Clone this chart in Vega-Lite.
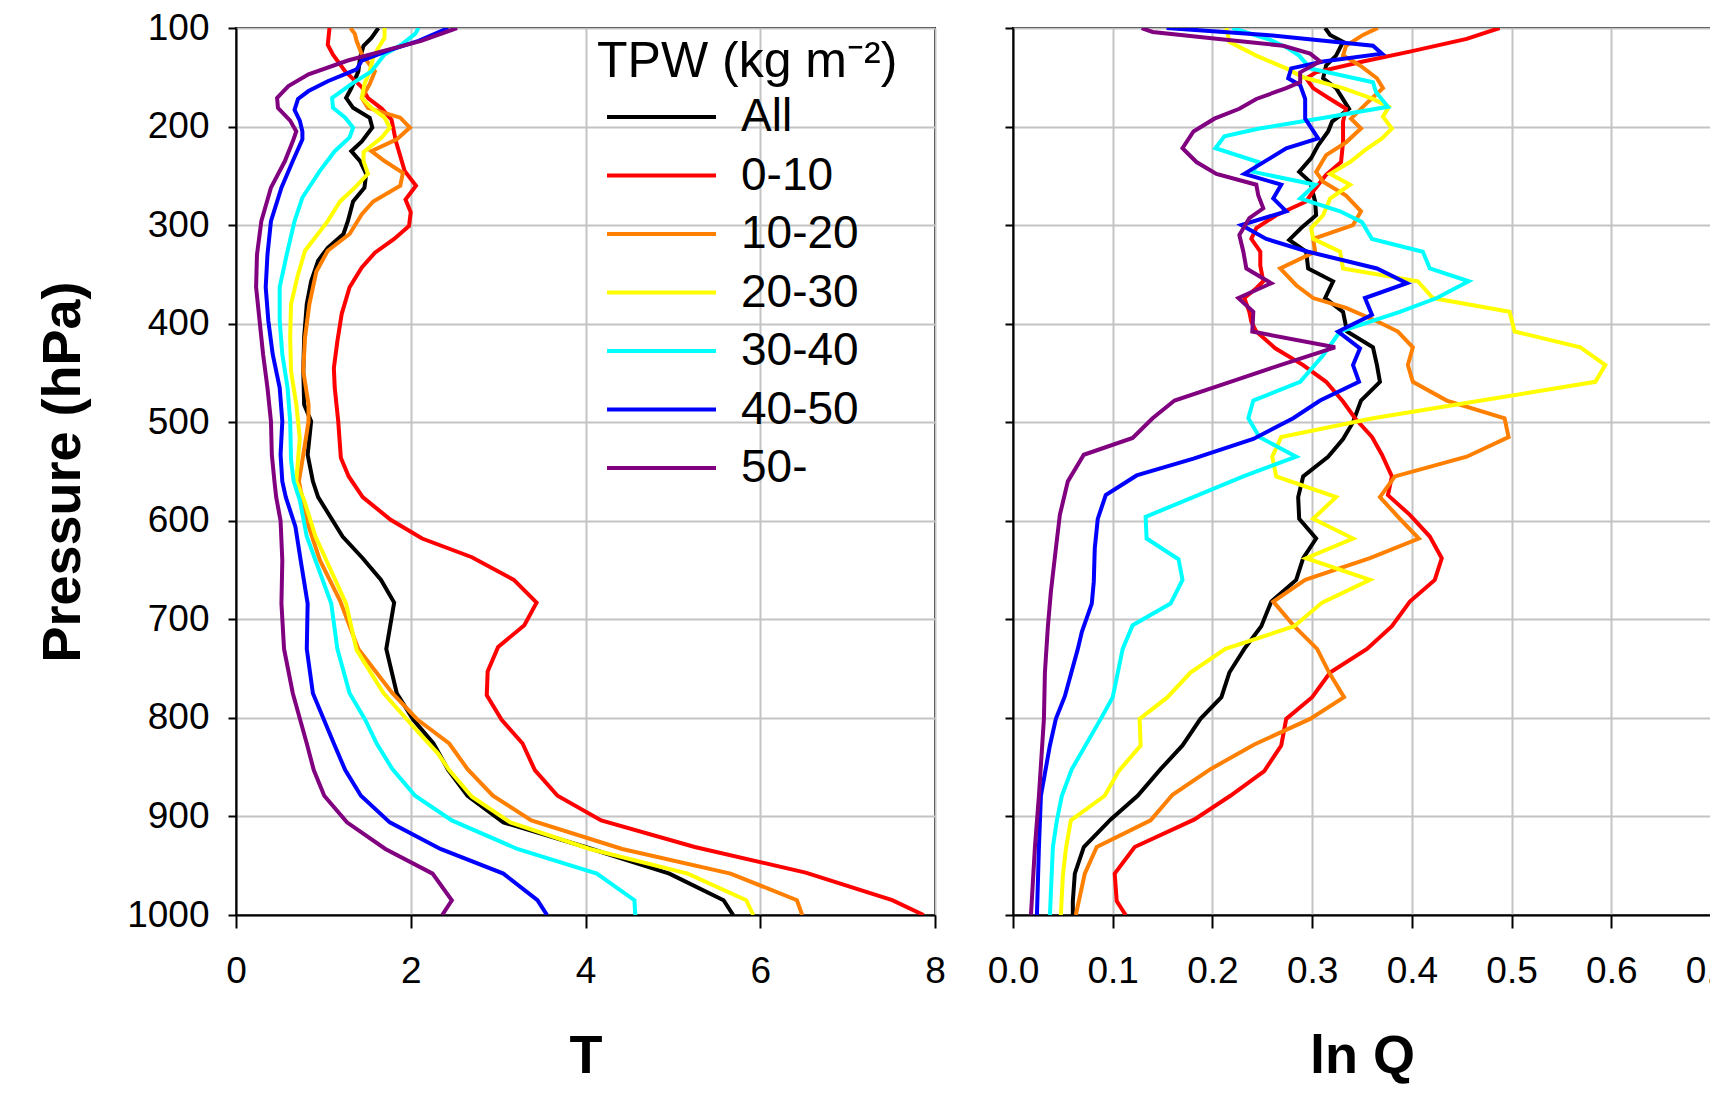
{
  "$schema": "https://vega.github.io/schema/vega-lite/v6.json",
  "background": "white",
  "padding": {"left": 35, "top": 8, "right": 0, "bottom": 5},
  "bounds": "flush",
  "spacing": 78,
  "config": {
    "font": "Liberation Sans",
    "view": {"stroke": "black", "strokeWidth": 2},
    "axis": {
      "domainColor": "black", "domainWidth": 2,
      "tickColor": "black", "tickWidth": 2,
      "gridColor": "#c4c4c4", "gridWidth": 2,
      "labelFont": "Liberation Sans", "labelFontSize": 37, "labelColor": "black", "labelFlush": false,
      "titleFont": "Liberation Sans", "titleFontSize": 54, "titleFontWeight": "bold", "titleColor": "black"
    },
    "axisX": {"tickSize": 13, "labelPadding": 25, "titlePadding": 40},
    "axisY": {"tickSize": 8, "labelPadding": 19, "titlePadding": 36}
  },
  "datasets": {
    "T": [
      {"series":"All","p":100,"v":1.63},{"series":"All","p":110,"v":1.55},{"series":"All","p":118,"v":1.46},{"series":"All","p":130,"v":1.42},{"series":"All","p":144,"v":1.40},{"series":"All","p":161,"v":1.32},{"series":"All","p":171,"v":1.26},{"series":"All","p":181,"v":1.34},{"series":"All","p":191,"v":1.53},{"series":"All","p":201,"v":1.56},{"series":"All","p":215,"v":1.44},{"series":"All","p":225,"v":1.32},{"series":"All","p":235,"v":1.42},{"series":"All","p":248,"v":1.49},{"series":"All","p":262,"v":1.47},{"series":"All","p":276,"v":1.34},{"series":"All","p":296,"v":1.28},{"series":"All","p":309,"v":1.23},{"series":"All","p":323,"v":1.05},{"series":"All","p":336,"v":0.94},{"series":"All","p":357,"v":0.86},{"series":"All","p":380,"v":0.81},{"series":"All","p":414,"v":0.78},{"series":"All","p":448,"v":0.77},{"series":"All","p":482,"v":0.78},{"series":"All","p":499,"v":0.86},{"series":"All","p":533,"v":0.82},{"series":"All","p":560,"v":0.88},{"series":"All","p":576,"v":0.94},{"series":"All","p":616,"v":1.22},{"series":"All","p":638,"v":1.45},{"series":"All","p":660,"v":1.66},{"series":"All","p":683,"v":1.81},{"series":"All","p":730,"v":1.72},{"series":"All","p":775,"v":1.84},{"series":"All","p":802,"v":2.03},{"series":"All","p":826,"v":2.26},{"series":"All","p":853,"v":2.43},{"series":"All","p":879,"v":2.65},{"series":"All","p":906,"v":3.06},{"series":"All","p":931,"v":4.00},{"series":"All","p":958,"v":4.96},{"series":"All","p":985,"v":5.58},{"series":"All","p":1000,"v":5.69},
      {"series":"0-10","p":100,"v":1.07},{"series":"0-10","p":117,"v":1.05},{"series":"0-10","p":127,"v":1.11},{"series":"0-10","p":144,"v":1.25},{"series":"0-10","p":160,"v":1.44},{"series":"0-10","p":171,"v":1.51},{"series":"0-10","p":182,"v":1.67},{"series":"0-10","p":193,"v":1.78},{"series":"0-10","p":215,"v":1.83},{"series":"0-10","p":245,"v":1.93},{"series":"0-10","p":260,"v":2.06},{"series":"0-10","p":274,"v":1.94},{"series":"0-10","p":287,"v":2.00},{"series":"0-10","p":301,"v":1.98},{"series":"0-10","p":314,"v":1.81},{"series":"0-10","p":328,"v":1.59},{"series":"0-10","p":343,"v":1.44},{"series":"0-10","p":363,"v":1.30},{"series":"0-10","p":390,"v":1.21},{"series":"0-10","p":418,"v":1.16},{"series":"0-10","p":445,"v":1.12},{"series":"0-10","p":465,"v":1.13},{"series":"0-10","p":499,"v":1.17},{"series":"0-10","p":536,"v":1.20},{"series":"0-10","p":555,"v":1.29},{"series":"0-10","p":576,"v":1.45},{"series":"0-10","p":599,"v":1.77},{"series":"0-10","p":618,"v":2.13},{"series":"0-10","p":637,"v":2.70},{"series":"0-10","p":660,"v":3.18},{"series":"0-10","p":683,"v":3.44},{"series":"0-10","p":706,"v":3.30},{"series":"0-10","p":728,"v":3.00},{"series":"0-10","p":753,"v":2.88},{"series":"0-10","p":777,"v":2.87},{"series":"0-10","p":802,"v":3.04},{"series":"0-10","p":826,"v":3.28},{"series":"0-10","p":853,"v":3.42},{"series":"0-10","p":879,"v":3.68},{"series":"0-10","p":904,"v":4.18},{"series":"0-10","p":931,"v":5.25},{"series":"0-10","p":957,"v":6.52},{"series":"0-10","p":985,"v":7.51},{"series":"0-10","p":1000,"v":7.87},
      {"series":"10-20","p":100,"v":1.31},{"series":"10-20","p":106,"v":1.36},{"series":"10-20","p":113,"v":1.38},{"series":"10-20","p":127,"v":1.44},{"series":"10-20","p":144,"v":1.59},{"series":"10-20","p":157,"v":1.53},{"series":"10-20","p":171,"v":1.44},{"series":"10-20","p":181,"v":1.51},{"series":"10-20","p":191,"v":1.88},{"series":"10-20","p":201,"v":1.99},{"series":"10-20","p":213,"v":1.84},{"series":"10-20","p":225,"v":1.55},{"series":"10-20","p":235,"v":1.70},{"series":"10-20","p":247,"v":1.91},{"series":"10-20","p":260,"v":1.88},{"series":"10-20","p":276,"v":1.57},{"series":"10-20","p":289,"v":1.44},{"series":"10-20","p":309,"v":1.30},{"series":"10-20","p":326,"v":1.05},{"series":"10-20","p":347,"v":0.92},{"series":"10-20","p":380,"v":0.84},{"series":"10-20","p":414,"v":0.79},{"series":"10-20","p":448,"v":0.77},{"series":"10-20","p":482,"v":0.83},{"series":"10-20","p":499,"v":0.83},{"series":"10-20","p":533,"v":0.77},{"series":"10-20","p":560,"v":0.72},{"series":"10-20","p":600,"v":0.81},{"series":"10-20","p":640,"v":0.96},{"series":"10-20","p":681,"v":1.19},{"series":"10-20","p":730,"v":1.40},{"series":"10-20","p":775,"v":1.79},{"series":"10-20","p":802,"v":2.08},{"series":"10-20","p":826,"v":2.44},{"series":"10-20","p":852,"v":2.65},{"series":"10-20","p":879,"v":2.94},{"series":"10-20","p":904,"v":3.38},{"series":"10-20","p":933,"v":4.42},{"series":"10-20","p":958,"v":5.66},{"series":"10-20","p":985,"v":6.42},{"series":"10-20","p":1000,"v":6.48},
      {"series":"20-30","p":100,"v":1.70},{"series":"20-30","p":110,"v":1.70},{"series":"20-30","p":120,"v":1.63},{"series":"20-30","p":130,"v":1.57},{"series":"20-30","p":144,"v":1.53},{"series":"20-30","p":157,"v":1.47},{"series":"20-30","p":171,"v":1.44},{"series":"20-30","p":181,"v":1.55},{"series":"20-30","p":191,"v":1.70},{"series":"20-30","p":201,"v":1.76},{"series":"20-30","p":211,"v":1.67},{"series":"20-30","p":226,"v":1.46},{"series":"20-30","p":235,"v":1.46},{"series":"20-30","p":248,"v":1.51},{"series":"20-30","p":262,"v":1.36},{"series":"20-30","p":276,"v":1.19},{"series":"20-30","p":296,"v":1.05},{"series":"20-30","p":326,"v":0.79},{"series":"20-30","p":350,"v":0.71},{"series":"20-30","p":380,"v":0.63},{"series":"20-30","p":414,"v":0.62},{"series":"20-30","p":448,"v":0.63},{"series":"20-30","p":482,"v":0.69},{"series":"20-30","p":516,"v":0.73},{"series":"20-30","p":560,"v":0.69},{"series":"20-30","p":579,"v":0.78},{"series":"20-30","p":616,"v":0.91},{"series":"20-30","p":684,"v":1.26},{"series":"20-30","p":731,"v":1.38},{"series":"20-30","p":775,"v":1.69},{"series":"20-30","p":809,"v":2.03},{"series":"20-30","p":836,"v":2.31},{"series":"20-30","p":853,"v":2.44},{"series":"20-30","p":880,"v":2.70},{"series":"20-30","p":906,"v":3.14},{"series":"20-30","p":933,"v":4.05},{"series":"20-30","p":958,"v":5.17},{"series":"20-30","p":985,"v":5.84},{"series":"20-30","p":1000,"v":5.92},
      {"series":"30-40","p":100,"v":2.09},{"series":"30-40","p":106,"v":2.05},{"series":"30-40","p":117,"v":1.89},{"series":"30-40","p":127,"v":1.70},{"series":"30-40","p":144,"v":1.55},{"series":"30-40","p":157,"v":1.32},{"series":"30-40","p":171,"v":1.10},{"series":"30-40","p":181,"v":1.11},{"series":"30-40","p":191,"v":1.25},{"series":"30-40","p":201,"v":1.34},{"series":"30-40","p":211,"v":1.30},{"series":"30-40","p":225,"v":1.13},{"series":"30-40","p":245,"v":0.96},{"series":"30-40","p":272,"v":0.76},{"series":"30-40","p":296,"v":0.67},{"series":"30-40","p":330,"v":0.58},{"series":"30-40","p":363,"v":0.50},{"series":"30-40","p":397,"v":0.50},{"series":"30-40","p":431,"v":0.53},{"series":"30-40","p":465,"v":0.59},{"series":"30-40","p":499,"v":0.62},{"series":"30-40","p":538,"v":0.63},{"series":"30-40","p":560,"v":0.66},{"series":"30-40","p":579,"v":0.73},{"series":"30-40","p":616,"v":0.81},{"series":"30-40","p":684,"v":1.09},{"series":"30-40","p":730,"v":1.16},{"series":"30-40","p":775,"v":1.30},{"series":"30-40","p":802,"v":1.48},{"series":"30-40","p":826,"v":1.61},{"series":"30-40","p":852,"v":1.79},{"series":"30-40","p":879,"v":2.05},{"series":"30-40","p":904,"v":2.47},{"series":"30-40","p":933,"v":3.22},{"series":"30-40","p":958,"v":4.13},{"series":"30-40","p":985,"v":4.56},{"series":"30-40","p":1000,"v":4.57},
      {"series":"40-50","p":100,"v":2.43},{"series":"40-50","p":113,"v":2.09},{"series":"40-50","p":123,"v":1.74},{"series":"40-50","p":133,"v":1.44},{"series":"40-50","p":142,"v":1.38},{"series":"40-50","p":154,"v":1.05},{"series":"40-50","p":164,"v":0.83},{"series":"40-50","p":172,"v":0.71},{"series":"40-50","p":183,"v":0.67},{"series":"40-50","p":194,"v":0.73},{"series":"40-50","p":205,"v":0.76},{"series":"40-50","p":213,"v":0.76},{"series":"40-50","p":235,"v":0.65},{"series":"40-50","p":262,"v":0.52},{"series":"40-50","p":296,"v":0.40},{"series":"40-50","p":330,"v":0.36},{"series":"40-50","p":363,"v":0.34},{"series":"40-50","p":397,"v":0.37},{"series":"40-50","p":431,"v":0.42},{"series":"40-50","p":465,"v":0.50},{"series":"40-50","p":499,"v":0.53},{"series":"40-50","p":533,"v":0.51},{"series":"40-50","p":560,"v":0.53},{"series":"40-50","p":576,"v":0.57},{"series":"40-50","p":606,"v":0.68},{"series":"40-50","p":640,"v":0.74},{"series":"40-50","p":684,"v":0.82},{"series":"40-50","p":730,"v":0.81},{"series":"40-50","p":775,"v":0.88},{"series":"40-50","p":826,"v":1.12},{"series":"40-50","p":853,"v":1.25},{"series":"40-50","p":879,"v":1.43},{"series":"40-50","p":906,"v":1.76},{"series":"40-50","p":933,"v":2.34},{"series":"40-50","p":958,"v":3.06},{"series":"40-50","p":985,"v":3.45},{"series":"40-50","p":1000,"v":3.56},
      {"series":"50-","p":100,"v":2.53},{"series":"50-","p":113,"v":2.12},{"series":"50-","p":123,"v":1.70},{"series":"50-","p":133,"v":1.28},{"series":"50-","p":147,"v":0.83},{"series":"50-","p":159,"v":0.60},{"series":"50-","p":171,"v":0.47},{"series":"50-","p":181,"v":0.48},{"series":"50-","p":194,"v":0.62},{"series":"50-","p":205,"v":0.69},{"series":"50-","p":215,"v":0.65},{"series":"50-","p":235,"v":0.56},{"series":"50-","p":262,"v":0.40},{"series":"50-","p":296,"v":0.29},{"series":"50-","p":330,"v":0.24},{"series":"50-","p":363,"v":0.23},{"series":"50-","p":397,"v":0.27},{"series":"50-","p":431,"v":0.31},{"series":"50-","p":465,"v":0.36},{"series":"50-","p":499,"v":0.40},{"series":"50-","p":533,"v":0.41},{"series":"50-","p":560,"v":0.44},{"series":"50-","p":576,"v":0.46},{"series":"50-","p":600,"v":0.51},{"series":"50-","p":640,"v":0.53},{"series":"50-","p":684,"v":0.52},{"series":"50-","p":730,"v":0.55},{"series":"50-","p":775,"v":0.65},{"series":"50-","p":826,"v":0.81},{"series":"50-","p":853,"v":0.89},{"series":"50-","p":879,"v":1.01},{"series":"50-","p":906,"v":1.27},{"series":"50-","p":933,"v":1.71},{"series":"50-","p":958,"v":2.25},{"series":"50-","p":985,"v":2.47},{"series":"50-","p":1000,"v":2.36}
    ],
    "Q": [
      {"series":"All","p":100,"v":0.313},{"series":"All","p":107,"v":0.318},{"series":"All","p":114,"v":0.331},{"series":"All","p":128,"v":0.324},{"series":"All","p":138,"v":0.314},{"series":"All","p":151,"v":0.311},{"series":"All","p":161,"v":0.324},{"series":"All","p":182,"v":0.337},{"series":"All","p":195,"v":0.320},{"series":"All","p":205,"v":0.316},{"series":"All","p":219,"v":0.306},{"series":"All","p":232,"v":0.299},{"series":"All","p":246,"v":0.287},{"series":"All","p":256,"v":0.298},{"series":"All","p":276,"v":0.303},{"series":"All","p":290,"v":0.304},{"series":"All","p":303,"v":0.289},{"series":"All","p":315,"v":0.277},{"series":"All","p":327,"v":0.294},{"series":"All","p":344,"v":0.296},{"series":"All","p":357,"v":0.321},{"series":"All","p":374,"v":0.313},{"series":"All","p":388,"v":0.331},{"series":"All","p":408,"v":0.335},{"series":"All","p":424,"v":0.361},{"series":"All","p":442,"v":0.365},{"series":"All","p":459,"v":0.368},{"series":"All","p":478,"v":0.349},{"series":"All","p":500,"v":0.341},{"series":"All","p":517,"v":0.331},{"series":"All","p":535,"v":0.316},{"series":"All","p":555,"v":0.291},{"series":"All","p":576,"v":0.286},{"series":"All","p":598,"v":0.287},{"series":"All","p":618,"v":0.304},{"series":"All","p":638,"v":0.291},{"series":"All","p":660,"v":0.284},{"series":"All","p":682,"v":0.259},{"series":"All","p":707,"v":0.249},{"series":"All","p":730,"v":0.232},{"series":"All","p":754,"v":0.217},{"series":"All","p":779,"v":0.209},{"series":"All","p":801,"v":0.188},{"series":"All","p":828,"v":0.170},{"series":"All","p":852,"v":0.148},{"series":"All","p":879,"v":0.125},{"series":"All","p":903,"v":0.098},{"series":"All","p":931,"v":0.071},{"series":"All","p":958,"v":0.062},{"series":"All","p":986,"v":0.060},{"series":"All","p":1000,"v":0.060},
      {"series":"0-10","p":100,"v":0.488},{"series":"0-10","p":111,"v":0.455},{"series":"0-10","p":124,"v":0.398},{"series":"0-10","p":134,"v":0.351},{"series":"0-10","p":145,"v":0.304},{"series":"0-10","p":151,"v":0.294},{"series":"0-10","p":161,"v":0.301},{"series":"0-10","p":172,"v":0.318},{"series":"0-10","p":182,"v":0.334},{"series":"0-10","p":195,"v":0.331},{"series":"0-10","p":216,"v":0.331},{"series":"0-10","p":236,"v":0.329},{"series":"0-10","p":249,"v":0.314},{"series":"0-10","p":263,"v":0.303},{"series":"0-10","p":276,"v":0.294},{"series":"0-10","p":290,"v":0.264},{"series":"0-10","p":303,"v":0.244},{"series":"0-10","p":314,"v":0.239},{"series":"0-10","p":327,"v":0.248},{"series":"0-10","p":341,"v":0.248},{"series":"0-10","p":357,"v":0.251},{"series":"0-10","p":364,"v":0.244},{"series":"0-10","p":374,"v":0.232},{"series":"0-10","p":388,"v":0.237},{"series":"0-10","p":398,"v":0.239},{"series":"0-10","p":408,"v":0.244},{"series":"0-10","p":425,"v":0.263},{"series":"0-10","p":442,"v":0.291},{"series":"0-10","p":459,"v":0.314},{"series":"0-10","p":479,"v":0.331},{"series":"0-10","p":496,"v":0.343},{"series":"0-10","p":515,"v":0.360},{"series":"0-10","p":533,"v":0.370},{"series":"0-10","p":555,"v":0.380},{"series":"0-10","p":574,"v":0.376},{"series":"0-10","p":594,"v":0.398},{"series":"0-10","p":616,"v":0.418},{"series":"0-10","p":638,"v":0.430},{"series":"0-10","p":660,"v":0.423},{"series":"0-10","p":682,"v":0.398},{"series":"0-10","p":707,"v":0.380},{"series":"0-10","p":730,"v":0.355},{"series":"0-10","p":754,"v":0.318},{"series":"0-10","p":779,"v":0.300},{"series":"0-10","p":801,"v":0.274},{"series":"0-10","p":828,"v":0.269},{"series":"0-10","p":854,"v":0.252},{"series":"0-10","p":879,"v":0.218},{"series":"0-10","p":903,"v":0.182},{"series":"0-10","p":931,"v":0.122},{"series":"0-10","p":958,"v":0.102},{"series":"0-10","p":986,"v":0.104},{"series":"0-10","p":1000,"v":0.113},
      {"series":"10-20","p":100,"v":0.366},{"series":"10-20","p":107,"v":0.351},{"series":"10-20","p":118,"v":0.334},{"series":"10-20","p":128,"v":0.331},{"series":"10-20","p":138,"v":0.348},{"series":"10-20","p":151,"v":0.365},{"series":"10-20","p":161,"v":0.371},{"series":"10-20","p":175,"v":0.356},{"series":"10-20","p":192,"v":0.339},{"series":"10-20","p":202,"v":0.349},{"series":"10-20","p":216,"v":0.334},{"series":"10-20","p":229,"v":0.314},{"series":"10-20","p":246,"v":0.304},{"series":"10-20","p":256,"v":0.311},{"series":"10-20","p":270,"v":0.334},{"series":"10-20","p":286,"v":0.349},{"series":"10-20","p":300,"v":0.341},{"series":"10-20","p":314,"v":0.301},{"series":"10-20","p":327,"v":0.303},{"series":"10-20","p":344,"v":0.268},{"series":"10-20","p":361,"v":0.284},{"series":"10-20","p":374,"v":0.301},{"series":"10-20","p":384,"v":0.334},{"series":"10-20","p":398,"v":0.366},{"series":"10-20","p":408,"v":0.386},{"series":"10-20","p":424,"v":0.401},{"series":"10-20","p":442,"v":0.396},{"series":"10-20","p":459,"v":0.401},{"series":"10-20","p":478,"v":0.435},{"series":"10-20","p":496,"v":0.493},{"series":"10-20","p":515,"v":0.497},{"series":"10-20","p":535,"v":0.455},{"series":"10-20","p":555,"v":0.383},{"series":"10-20","p":576,"v":0.368},{"series":"10-20","p":598,"v":0.388},{"series":"10-20","p":618,"v":0.407},{"series":"10-20","p":638,"v":0.358},{"series":"10-20","p":660,"v":0.293},{"series":"10-20","p":682,"v":0.261},{"series":"10-20","p":707,"v":0.282},{"series":"10-20","p":730,"v":0.305},{"series":"10-20","p":754,"v":0.317},{"series":"10-20","p":779,"v":0.332},{"series":"10-20","p":801,"v":0.298},{"series":"10-20","p":827,"v":0.242},{"series":"10-20","p":852,"v":0.198},{"series":"10-20","p":878,"v":0.160},{"series":"10-20","p":904,"v":0.138},{"series":"10-20","p":931,"v":0.084},{"series":"10-20","p":958,"v":0.072},{"series":"10-20","p":1000,"v":0.063},
      {"series":"20-30","p":100,"v":0.214},{"series":"20-30","p":114,"v":0.217},{"series":"20-30","p":128,"v":0.244},{"series":"20-30","p":141,"v":0.274},{"series":"20-30","p":150,"v":0.291},{"series":"20-30","p":161,"v":0.331},{"series":"20-30","p":172,"v":0.361},{"series":"20-30","p":180,"v":0.377},{"series":"20-30","p":190,"v":0.371},{"series":"20-30","p":202,"v":0.380},{"series":"20-30","p":212,"v":0.370},{"series":"20-30","p":224,"v":0.353},{"series":"20-30","p":236,"v":0.338},{"series":"20-30","p":248,"v":0.318},{"series":"20-30","p":259,"v":0.338},{"series":"20-30","p":273,"v":0.318},{"series":"20-30","p":290,"v":0.311},{"series":"20-30","p":303,"v":0.299},{"series":"20-30","p":314,"v":0.301},{"series":"20-30","p":327,"v":0.328},{"series":"20-30","p":344,"v":0.331},{"series":"20-30","p":357,"v":0.406},{"series":"20-30","p":374,"v":0.421},{"series":"20-30","p":388,"v":0.498},{"series":"20-30","p":408,"v":0.503},{"series":"20-30","p":424,"v":0.569},{"series":"20-30","p":442,"v":0.594},{"series":"20-30","p":459,"v":0.584},{"series":"20-30","p":476,"v":0.482},{"series":"20-30","p":496,"v":0.361},{"series":"20-30","p":515,"v":0.269},{"series":"20-30","p":535,"v":0.260},{"series":"20-30","p":555,"v":0.264},{"series":"20-30","p":576,"v":0.324},{"series":"20-30","p":598,"v":0.301},{"series":"20-30","p":618,"v":0.341},{"series":"20-30","p":638,"v":0.294},{"series":"20-30","p":660,"v":0.358},{"series":"20-30","p":683,"v":0.310},{"series":"20-30","p":707,"v":0.282},{"series":"20-30","p":730,"v":0.213},{"series":"20-30","p":754,"v":0.178},{"series":"20-30","p":779,"v":0.155},{"series":"20-30","p":801,"v":0.127},{"series":"20-30","p":828,"v":0.128},{"series":"20-30","p":854,"v":0.106},{"series":"20-30","p":879,"v":0.092},{"series":"20-30","p":904,"v":0.058},{"series":"20-30","p":933,"v":0.053},{"series":"20-30","p":960,"v":0.050},{"series":"20-30","p":1000,"v":0.048},
      {"series":"30-40","p":100,"v":0.220},{"series":"30-40","p":112,"v":0.258},{"series":"30-40","p":120,"v":0.275},{"series":"30-40","p":128,"v":0.287},{"series":"30-40","p":141,"v":0.298},{"series":"30-40","p":155,"v":0.361},{"series":"30-40","p":165,"v":0.364},{"series":"30-40","p":180,"v":0.376},{"series":"30-40","p":190,"v":0.318},{"series":"30-40","p":202,"v":0.247},{"series":"30-40","p":210,"v":0.212},{"series":"30-40","p":222,"v":0.203},{"series":"30-40","p":236,"v":0.246},{"series":"30-40","p":246,"v":0.241},{"series":"30-40","p":259,"v":0.303},{"series":"30-40","p":273,"v":0.288},{"series":"30-40","p":286,"v":0.328},{"series":"30-40","p":297,"v":0.350},{"series":"30-40","p":314,"v":0.360},{"series":"30-40","p":327,"v":0.411},{"series":"30-40","p":344,"v":0.418},{"series":"30-40","p":357,"v":0.457},{"series":"30-40","p":374,"v":0.425},{"series":"30-40","p":388,"v":0.388},{"series":"30-40","p":408,"v":0.328},{"series":"30-40","p":432,"v":0.311},{"series":"30-40","p":459,"v":0.288},{"series":"30-40","p":478,"v":0.241},{"series":"30-40","p":496,"v":0.236},{"series":"30-40","p":515,"v":0.247},{"series":"30-40","p":535,"v":0.284},{"series":"30-40","p":555,"v":0.231},{"series":"30-40","p":596,"v":0.133},{"series":"30-40","p":618,"v":0.134},{"series":"30-40","p":639,"v":0.166},{"series":"30-40","p":660,"v":0.170},{"series":"30-40","p":684,"v":0.158},{"series":"30-40","p":706,"v":0.120},{"series":"30-40","p":730,"v":0.110},{"series":"30-40","p":779,"v":0.100},{"series":"30-40","p":801,"v":0.088},{"series":"30-40","p":852,"v":0.059},{"series":"30-40","p":879,"v":0.049},{"series":"30-40","p":904,"v":0.044},{"series":"30-40","p":931,"v":0.040},{"series":"30-40","p":1000,"v":0.037},
      {"series":"40-50","p":100,"v":0.154},{"series":"40-50","p":107,"v":0.254},{"series":"40-50","p":118,"v":0.361},{"series":"40-50","p":126,"v":0.370},{"series":"40-50","p":134,"v":0.311},{"series":"40-50","p":141,"v":0.279},{"series":"40-50","p":151,"v":0.276},{"series":"40-50","p":158,"v":0.288},{"series":"40-50","p":172,"v":0.293},{"series":"40-50","p":192,"v":0.293},{"series":"40-50","p":212,"v":0.306},{"series":"40-50","p":222,"v":0.274},{"series":"40-50","p":232,"v":0.258},{"series":"40-50","p":248,"v":0.232},{"series":"40-50","p":259,"v":0.269},{"series":"40-50","p":273,"v":0.261},{"series":"40-50","p":286,"v":0.274},{"series":"40-50","p":300,"v":0.229},{"series":"40-50","p":314,"v":0.254},{"series":"40-50","p":327,"v":0.296},{"series":"40-50","p":344,"v":0.365},{"series":"40-50","p":359,"v":0.395},{"series":"40-50","p":374,"v":0.353},{"series":"40-50","p":391,"v":0.360},{"series":"40-50","p":408,"v":0.326},{"series":"40-50","p":425,"v":0.348},{"series":"40-50","p":442,"v":0.341},{"series":"40-50","p":459,"v":0.347},{"series":"40-50","p":478,"v":0.308},{"series":"40-50","p":496,"v":0.281},{"series":"40-50","p":517,"v":0.241},{"series":"40-50","p":537,"v":0.181},{"series":"40-50","p":554,"v":0.124},{"series":"40-50","p":574,"v":0.093},{"series":"40-50","p":598,"v":0.085},{"series":"40-50","p":628,"v":0.082},{"series":"40-50","p":662,"v":0.081},{"series":"40-50","p":684,"v":0.079},{"series":"40-50","p":713,"v":0.069},{"series":"40-50","p":730,"v":0.065},{"series":"40-50","p":778,"v":0.052},{"series":"40-50","p":801,"v":0.043},{"series":"40-50","p":828,"v":0.037},{"series":"40-50","p":879,"v":0.028},{"series":"40-50","p":931,"v":0.026},{"series":"40-50","p":1000,"v":0.024},
      {"series":"50-","p":100,"v":0.129},{"series":"50-","p":104,"v":0.140},{"series":"50-","p":111,"v":0.204},{"series":"50-","p":118,"v":0.271},{"series":"50-","p":126,"v":0.298},{"series":"50-","p":134,"v":0.308},{"series":"50-","p":145,"v":0.288},{"series":"50-","p":155,"v":0.288},{"series":"50-","p":161,"v":0.274},{"series":"50-","p":172,"v":0.244},{"series":"50-","p":182,"v":0.227},{"series":"50-","p":192,"v":0.202},{"series":"50-","p":205,"v":0.181},{"series":"50-","p":222,"v":0.170},{"series":"50-","p":236,"v":0.184},{"series":"50-","p":248,"v":0.204},{"series":"50-","p":259,"v":0.244},{"series":"50-","p":270,"v":0.246},{"series":"50-","p":283,"v":0.251},{"series":"50-","p":293,"v":0.237},{"series":"50-","p":310,"v":0.227},{"series":"50-","p":327,"v":0.231},{"series":"50-","p":344,"v":0.234},{"series":"50-","p":359,"v":0.259},{"series":"50-","p":374,"v":0.226},{"series":"50-","p":388,"v":0.241},{"series":"50-","p":408,"v":0.240},{"series":"50-","p":424,"v":0.323},{"series":"50-","p":442,"v":0.268},{"series":"50-","p":459,"v":0.218},{"series":"50-","p":478,"v":0.162},{"series":"50-","p":496,"v":0.140},{"series":"50-","p":516,"v":0.120},{"series":"50-","p":533,"v":0.071},{"series":"50-","p":560,"v":0.055},{"series":"50-","p":594,"v":0.047},{"series":"50-","p":628,"v":0.043},{"series":"50-","p":672,"v":0.038},{"series":"50-","p":707,"v":0.035},{"series":"50-","p":754,"v":0.032},{"series":"50-","p":801,"v":0.031},{"series":"50-","p":879,"v":0.026},{"series":"50-","p":931,"v":0.022},{"series":"50-","p":1000,"v":0.018}
    ]
  },
  "hconcat": [
    {
      "width": 699,
      "height": 887,
      "data": {"name": "T"},
      "mark": {"type": "line", "strokeWidth": 4, "clip": true},
      "encoding": {
        "x": {"field": "v", "type": "quantitative", "scale": {"domain": [0, 8], "nice": false, "zero": false}, "axis": {"values": [0, 2, 4, 6, 8], "title": "T"}},
        "y": {"field": "p", "type": "quantitative", "scale": {"domain": [100, 1000], "reverse": true, "nice": false, "zero": false}, "axis": {"values": [100, 200, 300, 400, 500, 600, 700, 800, 900, 1000], "format": "d", "title": "Pressure (hPa)", "titleFontSize": 54}},
        "color": {
          "field": "series", "type": "nominal",
          "scale": {"domain": ["All", "0-10", "10-20", "20-30", "30-40", "40-50", "50-"], "range": ["#000000", "#ff0000", "#ff8000", "#ffff00", "#00ffff", "#0000ff", "#800080"]},
          "legend": {
            "orient": "none", "legendX": 361, "legendY": 9,
            "title": "TPW (kg m⁻²)", "titleFont": "Liberation Sans", "titleFontSize": 50, "titleFontWeight": "normal", "titleColor": "black", "titleLimit": 600, "titlePadding": 7,
            "labelFont": "Liberation Sans", "labelFontSize": 46, "labelColor": "black", "labelOffset": 23, "labelLimit": 300,
            "symbolType": "stroke", "symbolSize": 11881, "symbolStrokeWidth": 4, "symbolOffset": 8,
            "clipHeight": 46, "rowPadding": 12.5, "padding": 0
          }
        },
        "order": {"field": "p", "type": "quantitative"}
      }
    },
    {
      "width": 698,
      "height": 887,
      "data": {"name": "Q"},
      "mark": {"type": "line", "strokeWidth": 4, "clip": true},
      "encoding": {
        "x": {"field": "v", "type": "quantitative", "scale": {"domain": [0, 0.7], "nice": false, "zero": false}, "axis": {"values": [0, 0.1, 0.2, 0.3, 0.4, 0.5, 0.6, 0.7], "format": ".1f", "title": "ln Q"}},
        "y": {"field": "p", "type": "quantitative", "scale": {"domain": [100, 1000], "reverse": true, "nice": false, "zero": false}, "axis": {"values": [100, 200, 300, 400, 500, 600, 700, 800, 900, 1000], "labels": false, "title": null}},
        "color": {"field": "series", "type": "nominal", "scale": {"domain": ["All", "0-10", "10-20", "20-30", "30-40", "40-50", "50-"], "range": ["#000000", "#ff0000", "#ff8000", "#ffff00", "#00ffff", "#0000ff", "#800080"]}, "legend": null},
        "order": {"field": "p", "type": "quantitative"}
      }
    }
  ],
  "resolve": {"legend": {"color": "independent"}}
}
